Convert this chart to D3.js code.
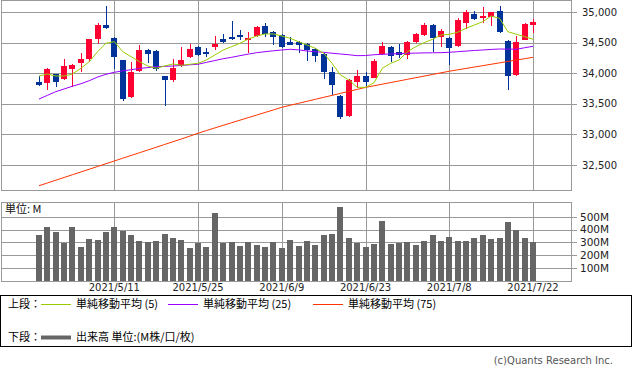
<!DOCTYPE html>
<html>
<head>
<meta charset="utf-8">
<script src="https://cdn.jsdelivr.net/npm/d3@7"></script>
<style>
  body { margin: 0; background: #fff; }
  svg { display: block; }
  text { font-family: "DejaVu Sans", sans-serif; }
  .jp { font-family: "Noto Sans CJK JP", sans-serif; }
</style>
</head>
<body>
<div id="chart"></div>
<script>
// trading days shown on the chart
var dates = ["2021/4/28","2021/4/29","2021/4/30","2021/5/3","2021/5/4","2021/5/5","2021/5/6","2021/5/7",
  "2021/5/10","2021/5/11","2021/5/12","2021/5/13","2021/5/14","2021/5/17","2021/5/18","2021/5/19","2021/5/20","2021/5/21",
  "2021/5/24","2021/5/25","2021/5/26","2021/5/27","2021/5/28","2021/6/1","2021/6/2","2021/6/3","2021/6/4",
  "2021/6/7","2021/6/8","2021/6/9","2021/6/10","2021/6/11","2021/6/14","2021/6/15","2021/6/16","2021/6/17","2021/6/18",
  "2021/6/21","2021/6/22","2021/6/23","2021/6/24","2021/6/25","2021/6/28","2021/6/29","2021/6/30","2021/7/1","2021/7/2",
  "2021/7/6","2021/7/7","2021/7/8","2021/7/9","2021/7/12","2021/7/13","2021/7/14","2021/7/15","2021/7/16",
  "2021/7/19","2021/7/20","2021/7/21","2021/7/22"];

var opens = [33864,33848,33990,33903,34072,34165,34236,34563,34792,34579,34219,33618,34044,34383,34366,33957,33892,34121,
  34263,34432,34350,34432,34563,34596,34628,34547,34612,34776,34677,34628,34514,34514,34481,34399,34317,34023,33630,
  33307,33859,33957,33929,34317,34432,34350,34301,34514,34628,34792,34596,34579,34448,34825,34972,34907,34923,35021,
  34530,33973,34547,34792];
var highs = [33957,34093,33995,34236,34154,34334,34570,34830,35108,34590,34225,34191,34465,34399,34380,33965,34236,34437,
  34481,34445,34416,34612,34645,34858,34710,34677,34776,34825,34694,34645,34596,34530,34497,34416,34334,34105,33640,
  33908,34055,34023,34236,34514,34445,34481,34530,34660,34825,34810,34727,34590,34907,35038,35021,35087,35010,35103,
  34540,34612,34820,34890];
var lows = [33794,33728,33782,33890,33772,34028,34181,34476,34727,34072,33553,33600,34030,34165,34044,33471,33864,34110,
  34250,34290,34263,34383,34505,34547,34547,34334,34600,34596,34465,34420,34460,34334,34203,34186,33908,33646,33253,
  33290,33756,33782,33920,34300,34186,34252,34236,34500,34615,34350,34432,34137,34440,34727,34874,34825,34776,34661,
  33728,33960,34540,34661];
var closes = [33815,34072,33864,34121,34132,34236,34563,34792,34748,34273,33586,34028,34383,34317,34072,33892,34093,34219,
  34399,34301,34317,34481,34514,34563,34596,34579,34759,34645,34596,34432,34465,34465,34383,34285,34023,33810,33291,
  33892,33957,33859,34203,34448,34285,34301,34514,34645,34792,34579,34694,34416,34874,35005,34890,34940,35005,34677,
  33957,34514,34808,34841];

// moving averages
var ma5 = [33957,33990,33957,33957,33990,34083,34191,34355,34492,34519,34355,34273,34191,34121,34083,34121,34154,34132,
  34149,34165,34219,34301,34383,34437,34492,34563,34612,34645,34645,34612,34574,34519,34465,34411,34329,34165,33974,
  33892,33772,33772,33845,34083,34165,34219,34355,34437,34503,34558,34628,34640,34673,34738,34792,34846,34939,34902,
  34683,34640,34601,34558];
var ma25 = [33580,33640,33700,33745,33790,33830,33880,33940,33985,34018,34040,34060,34080,34095,34110,34115,34120,34130,
  34140,34150,34180,34210,34240,34263,34290,34315,34339,34355,34370,34383,34394,34385,34366,34355,34345,34330,34317,
  34305,34290,34292,34305,34312,34318,34322,34329,34332,34335,34337,34339,34345,34355,34365,34375,34383,34392,34399,
  34398,34394,34420,34443];
var ma75 = [32161,32206,32251,32296,32341,32386,32431,32476,32521,32566,32611,32656,32701,32746,32791,32836,32881,32926,
  32972,33020,33064,33107,33150,33192,33234,33276,33318,33360,33402,33445,33478,33510,33543,33575,33608,33640,33673,
  33705,33738,33770,33797,33823,33850,33876,33903,33929,33956,33982,34009,34035,34058,34081,34104,34126,34149,34172,
  34195,34218,34240,34263];

// volume in millions
var volumes = [359,421,382,298,421,264,327,319,382,421,390,359,311,304,311,366,335,319,257,298,264,531,298,304,272,304,
  280,264,304,257,319,272,311,280,359,366,579,335,298,264,288,469,288,298,304,280,311,359,311,343,311,311,335,359,327,
  335,461,398,335,304];

var priceTicks = [32500, 33000, 33500, 34000, 34500, 35000];
var volumeTicks = [100, 200, 300, 400, 500];
var dateTicks = ["2021/5/11","2021/5/25","2021/6/9","2021/6/23","2021/7/8","2021/7/22"];

var upColor = "#ff0033";
var downColor = "#003399";
var gridColor = "#999999";

var w = 633, h = 371;
var left = 1, right = 571;
var mainTop = 0, mainBottom = 190;
var volTop = 201.5, volBottom = 280.7;

var svg = d3.select("#chart").append("svg")
  .attr("width", w)
  .attr("height", h);

var x = d3.scalePoint().domain(dates).range([39, 533]);
var y = d3.scaleLinear().domain([32091, 35193]).range([mainBottom, 0.5]);
var yv = d3.scaleLinear().domain([0, 620]).range([volBottom, volTop]);

function px(v) { return Math.round(v) + 0.5; }//snap lines to pixel grid

// ---- grid lines for both panels
var grid = svg.append("g").attr("stroke", gridColor).attr("stroke-width", 1).attr("shape-rendering", "crispEdges");

grid.selectAll(".hp").data(priceTicks).enter().append("line")
  .attr("x1", left).attr("x2", right + 6)
  .attr("y1", function(d) { return px(y(d)); })
  .attr("y2", function(d) { return px(y(d)); });

grid.selectAll(".hv").data(volumeTicks).enter().append("line")
  .attr("x1", left).attr("x2", right + 6)
  .attr("y1", function(d) { return px(yv(d)); })
  .attr("y2", function(d) { return px(yv(d)); });

dateTicks.forEach(function(d) {
  grid.append("line").attr("x1", px(x(d))).attr("x2", px(x(d))).attr("y1", mainTop).attr("y2", mainBottom);
  grid.append("line").attr("x1", px(x(d))).attr("x2", px(x(d))).attr("y1", volTop).attr("y2", volBottom);
});

// panel frames
svg.append("rect").attr("x", left + 0.5).attr("y", 0.5).attr("width", right - left).attr("height", mainBottom - 0.5)
  .attr("fill", "none").attr("stroke", gridColor).attr("shape-rendering", "crispEdges");
svg.append("rect").attr("x", left + 0.5).attr("y", px(volTop)).attr("width", right - left).attr("height", Math.round(volBottom - volTop))
  .attr("fill", "none").attr("stroke", gridColor).attr("shape-rendering", "crispEdges");

// ---- candles (red = up day, blue = down day)
var candles = svg.append("g").attr("shape-rendering", "crispEdges");
var candle = candles.selectAll("g.candle")
  .data(dates)
  .enter()
  .append("g")
  .attr("class", "candle");

candle.append("line")//wick
  .attr("x1", function(d) { return px(x(d)); })
  .attr("x2", function(d) { return px(x(d)); })
  .attr("y1", function(d, i) { return y(highs[i]); })
  .attr("y2", function(d, i) { return y(lows[i]); })
  .attr("stroke", function(d, i) { return closes[i] >= opens[i] ? upColor : downColor; });

candle.append("rect")//body
  .attr("x", function(d) { return Math.round(x(d)) - 3; })
  .attr("width", 6)
  .attr("y", function(d, i) { return y(Math.max(opens[i], closes[i])); })
  .attr("height", function(d, i) { return Math.max(1.5, Math.abs(y(opens[i]) - y(closes[i]))); })
  .attr("fill", function(d, i) { return closes[i] >= opens[i] ? upColor : downColor; });

// ---- moving average lines
function maLine(values) {
  return d3.line()
    .x(function(d, i) { return x(dates[i]); })
    .y(function(d) { return y(d); })(values);
}
svg.append("path").attr("d", maLine(ma75)).attr("fill", "none").attr("stroke", "#ff3300").attr("stroke-width", 1);
svg.append("path").attr("d", maLine(ma25)).attr("fill", "none").attr("stroke", "#9900ff").attr("stroke-width", 1);
svg.append("path").attr("d", maLine(ma5)).attr("fill", "none").attr("stroke", "#99cc00").attr("stroke-width", 1);

// ---- volume bars
svg.append("g").attr("shape-rendering", "crispEdges")
  .selectAll("rect")
  .data(volumes)
  .enter()
  .append("rect")
  .attr("x", function(d, i) { return Math.round(x(dates[i])) - 3; })
  .attr("width", 6)
  .attr("y", function(d) { return yv(d); })
  .attr("height", function(d) { return volBottom - yv(d); })
  .attr("fill", "#666666");

// ---- axis labels
svg.selectAll(".plabel").data(priceTicks).enter().append("text")
  .attr("x", 582)
  .attr("y", function(d) { return y(d); })
  .attr("dy", "0.35em")
  .attr("font-size", 10)
  .attr("fill", "#222")
  .text(function(d) { return d3.format(",")(d); });

svg.selectAll(".vlabel").data(volumeTicks).enter().append("text")
  .attr("x", 580)
  .attr("y", function(d) { return yv(d); })
  .attr("dy", "0.35em")
  .attr("font-size", 10.5)
  .attr("fill", "#222")
  .text(function(d) { return d + "M"; });

svg.selectAll(".dlabel").data(dateTicks).enter().append("text")
  .attr("x", function(d) { return x(d); })
  .attr("y", 291)
  .attr("text-anchor", "middle")
  .attr("font-size", 10)
  .attr("fill", "#222")
  .text(function(d) { return d; });

svg.append("text").attr("class", "jp")
  .attr("x", 5).attr("y", 213)
  .attr("font-size", 11)
  .attr("fill", "#111")
  .text("単位: M");

// ---- legend box
svg.append("rect").attr("x", 0.5).attr("y", 295.5).attr("width", 631).attr("height", 51)
  .attr("fill", "#fff").attr("stroke", "#000").attr("shape-rendering", "crispEdges");

var legendItems = [
  {label: "単純移動平均 (5)", color: "#99cc00", x: 41},
  {label: "単純移動平均 (25)", color: "#9900ff", x: 168},
  {label: "単純移動平均 (75)", color: "#ff3300", x: 313}
];

svg.append("text").attr("class", "jp").attr("x", 8).attr("y", 304).attr("dy", "0.35em")
  .attr("font-size", 11).text("上段：");

legendItems.forEach(function(item) {
  svg.append("line").attr("x1", item.x).attr("x2", item.x + 30).attr("y1", 304.5).attr("y2", 304.5)
    .attr("stroke", item.color).attr("stroke-width", 1);
  svg.append("text").attr("class", "jp").attr("x", item.x + 35).attr("y", 304).attr("dy", "0.35em")
    .attr("font-size", 11).text(item.label);
});

svg.append("text").attr("class", "jp").attr("x", 8).attr("y", 337).attr("dy", "0.35em")
  .attr("font-size", 11).text("下段：");
svg.append("line").attr("x1", 41).attr("x2", 71).attr("y1", 337.5).attr("y2", 337.5)
  .attr("stroke", "#666").attr("stroke-width", 4);
svg.append("text").attr("class", "jp").attr("x", 76).attr("y", 337).attr("dy", "0.35em")
  .attr("font-size", 11).text("出来高 単位:(M株/口/枚)");

svg.append("text")
  .attr("x", 613).attr("y", 360).attr("dy", "0.35em")
  .attr("text-anchor", "end")
  .attr("font-size", 10)
  .attr("fill", "#555")
  .text("(c)Quants Research Inc.");
</script>
</body>
</html>
